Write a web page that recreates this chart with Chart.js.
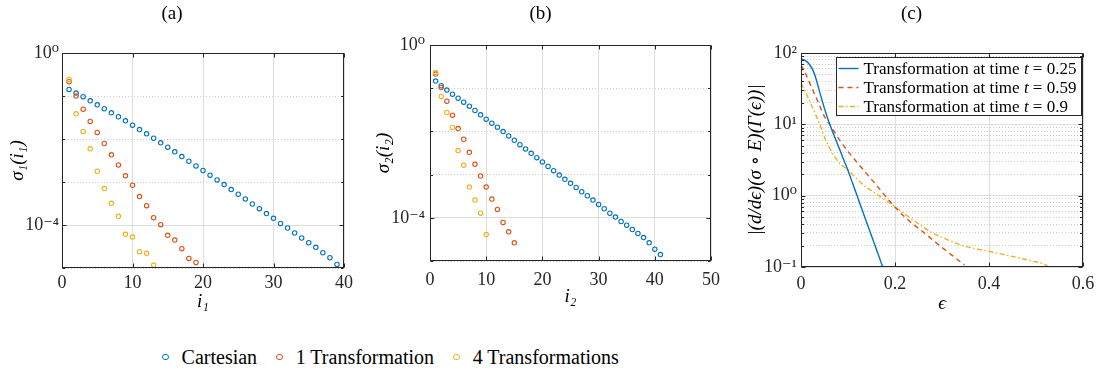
<!DOCTYPE html>
<html>
<head>
<meta charset="utf-8">
<title>Singular value decay and derivative norms</title>
<script src="https://cdn.jsdelivr.net/npm/chart.js@4.4.1/dist/chart.umd.min.js"></script>
<style>
  html, body { margin: 0; padding: 0; background: #fff; }
  body { position: relative; width: 1102px; height: 375px; overflow: hidden; }
  canvas { position: absolute; top: 0; }
  #panelA { left: 0; }
  #panelB { left: 370px; }
  #panelC { left: 740px; }
  #sharedLegend {
    position: absolute; left: 162px; top: 347px;
    display: flex; align-items: center; gap: 19px;
    font: 20px/20px 'Liberation Serif', 'DejaVu Serif', serif;
    color: #000; white-space: nowrap;
  }
  #sharedLegend .item { display: flex; align-items: center; }
  #sharedLegend .dot {
    width: 4.6px; height: 4.6px; border: 1.2px solid; border-radius: 50%;
    margin-right: 13px;
  }
</style>
</head>
<body>
<canvas id="panelA" width="370" height="320"></canvas>
<canvas id="panelB" width="370" height="320"></canvas>
<canvas id="panelC" width="362" height="320"></canvas>
<div id="sharedLegend"></div>
<script>
// singular values sigma_1(i_1)
const sigma1Cartesian = [0.142, 0.117, 0.0962, 0.0774, 0.0625, 0.0505, 0.0407, 0.0329, 0.0265, 0.0210,
  0.0166, 0.0132, 0.0104, 8.15e-3, 6.46e-3, 5.02e-3, 3.91e-3, 3.04e-3, 2.37e-3, 1.85e-3,
  1.44e-3, 1.12e-3, 8.71e-4, 6.65e-4, 5.19e-4, 4.04e-4, 3.08e-4, 2.40e-4, 1.84e-4, 1.43e-4,
  1.09e-4, 8.51e-5, 6.52e-5, 4.98e-5, 3.87e-5, 3.02e-5, 2.26e-5, 1.73e-5, 1.21e-5];
const sigma1OneTransform = [0.215, 0.0995, 0.0495, 0.0256, 0.0142, 7.85e-3, 4.28e-3, 2.50e-3, 1.39e-3, 8.40e-4,
  4.57e-4, 2.82e-4, 1.48e-4, 1.02e-4, 5.74e-5, 4.47e-5, 2.81e-5, 1.67e-5, 1.35e-5];
const sigma1FourTransforms = [0.243, 0.0386, 0.0150, 5.90e-3, 1.78e-3, 7.02e-4, 3.20e-4, 1.59e-4, 6.07e-5, 5.25e-5,
  2.39e-5, 2.19e-5, 1.17e-5];

// singular values sigma_2(i_2)
const sigma2Cartesian = [0.146, 0.114, 0.0904, 0.0729, 0.0589, 0.0475, 0.0384, 0.0305, 0.0242, 0.0192,
  0.0155, 0.0125, 9.91e-3, 7.87e-3, 6.24e-3, 4.94e-3, 3.93e-3, 3.11e-3, 2.47e-3, 1.96e-3,
  1.55e-3, 1.23e-3, 9.77e-4, 7.76e-4, 6.27e-4, 5.06e-4, 4.01e-4, 3.24e-4, 2.57e-4, 2.04e-4,
  1.62e-4, 1.28e-4, 1.04e-4, 8.22e-5, 6.76e-5, 5.36e-5, 4.33e-5, 3.49e-5, 2.63e-5, 1.88e-5, 1.41e-5];
const sigma2OneTransform = [0.212, 0.104, 0.0501, 0.0237, 0.0116, 6.58e-3, 3.28e-3, 1.73e-3, 9.27e-4, 5.15e-4,
  2.71e-4, 1.56e-4, 7.80e-5, 4.73e-5, 2.63e-5];
const sigma2FourTransforms = [0.232, 0.0644, 0.0274, 0.0123, 3.59e-3, 1.64e-3, 5.15e-4, 2.57e-4, 1.28e-4, 4.10e-5];

// |(d/d eps)(sigma o E)(Gamma(eps))| at three transformation times
const epsT025 = [0, 0.005, 0.01, 0.015, 0.02, 0.025, 0.03, 0.035, 0.04, 0.05, 0.06, 0.07, 0.08, 0.09,
  0.10, 0.11, 0.12, 0.13, 0.14, 0.15, 0.16, 0.17, 0.18];
const derivT025 = [82.4, 80.5, 77.5, 73, 66, 58, 48, 37, 28, 16.6, 10.5, 7.1, 4.85, 3.3,
  2.25, 1.48, 0.97, 0.635, 0.417, 0.274, 0.18, 0.118, 0.077];
const epsT059 = [0, 0.01, 0.02, 0.03, 0.04, 0.05, 0.06, 0.07, 0.08, 0.09, 0.10, 0.11, 0.12, 0.13, 0.14,
  0.15, 0.16, 0.17, 0.18, 0.19, 0.20, 0.22, 0.24, 0.26, 0.28, 0.30, 0.32, 0.34, 0.348];
const derivT059 = [68, 50.7, 36, 25.6, 18.1, 12.8, 10.2, 8.1, 6.3, 5.1, 4.14, 3.46, 2.89, 2.42, 2.02,
  1.69, 1.41, 1.18, 0.98, 0.82, 0.69, 0.51, 0.39, 0.31, 0.24, 0.188, 0.148, 0.117, 0.107];
const epsT09 = [0, 0.01, 0.02, 0.03, 0.04, 0.05, 0.06, 0.07, 0.08, 0.09, 0.10, 0.12, 0.14, 0.16, 0.18,
  0.20, 0.22, 0.24, 0.26, 0.28, 0.30, 0.32, 0.34, 0.36, 0.38, 0.40, 0.43, 0.46, 0.49, 0.52, 0.526];
const derivT09 = [37.6, 28, 20, 14.3, 10, 6.6, 4.8, 3.65, 2.95, 2.57, 2.29, 1.68, 1.30, 1.06, 0.86,
  0.70, 0.56, 0.45, 0.363, 0.30, 0.26, 0.229, 0.204, 0.188, 0.176, 0.166, 0.150, 0.136, 0.122, 0.107, 0.100];

const seriesNames = ['Cartesian', '1 Transformation', '4 Transformations'];
const timeLabels = ['0.25', '0.59', '0.9'];
const seriesColors = ['#0072BD', '#D95319', '#EDB120'];

const xTicksA = [0, 10, 20, 30, 40];
const xTicksB = [0, 10, 20, 30, 40, 50];
const xTicksC = [0, 0.2, 0.4, 0.6];
const yDecadesAB = [1e-5, 1e-4, 1e-3, 1e-2, 1e-1, 1];
const yDecadeLabelsAB = ['', '10⁻⁴', '', '', '', '10⁰'];
const yDecadesC = [0.1, 1, 10, 100];
const yDecadeLabelsC = ['10⁻¹', '10⁰', '10¹', '10²'];

const FONT = "'Liberation Serif', 'DejaVu Serif', serif";
const INK = '#262626';
Chart.defaults.font.family = FONT;
Chart.defaults.color = INK;

const toIndexed = ys => ys.map((y, i) => ({ x: i + 1, y: y }));
const zip = (xs, ys) => xs.map((x, i) => ({ x: x, y: ys[i] }));

// decade ticks for panels a and b (only some carry a label)
function decadeTicksAB() {
  return yDecadesAB.map((v, i) => ({ value: v, major: yDecadeLabelsAB[i] !== '', text: yDecadeLabelsAB[i] }));
}
// decades plus 2..9 minor ticks for panel c
function decadeTicksC() {
  const out = [];
  yDecadesC.forEach((d, i) => {
    const last = i === yDecadesC.length - 1;
    for (let m = 1; m <= (last ? 1 : 9); m++) {
      out.push({ value: d * m, major: m === 1, text: m === 1 ? yDecadeLabelsC[i] : '' });
    }
  });
  return out;
}

const gridStyle = () => ({
  drawTicks: false,
  lineWidth: 1,
  color: c => (c.tick && c.tick.major) ? '#dedede' : '#cdcdcd'
});
const gridBorder = () => ({
  display: false,
  dash: c => (c.tick && c.tick.major) ? [] : [1, 2]
});

function xAxis(o) {
  return {
    type: 'linear', position: 'bottom',
    min: o.ticks[0], max: o.ticks[o.ticks.length - 1],
    afterBuildTicks: s => { s.ticks = o.ticks.map(v => ({ value: v, major: true, text: String(v) })); },
    afterFit: s => { s.height = o.height; },
    grid: gridStyle(), border: gridBorder(),
    ticks: { padding: o.tickPad, maxRotation: 0, autoSkip: false, font: { size: 18 },
      callback: (v, i, t) => t[i].text },
    title: { display: true, text: o.title, color: '#000', font: { size: 19, style: 'italic' },
      padding: { top: 0, bottom: o.titlePad } }
  };
}

function yAxis(o) {
  return {
    type: 'logarithmic', position: 'left',
    min: o.min, max: o.max,
    afterBuildTicks: s => { s.ticks = o.ticks(); },
    afterFit: s => { s.width = o.width; },
    grid: gridStyle(), border: gridBorder(),
    ticks: { padding: o.tickPad, autoSkip: false, font: { size: 18 },
      callback: (v, i, t) => t[i].text },
    title: { display: true, text: o.title, color: '#000', font: { size: 19, style: 'italic' },
      padding: { top: o.titlePad, bottom: 0 } }
  };
}

// box around the axes with inward tick marks, drawn over the data
const axesBox = {
  id: 'axesBox',
  afterDraw(chart) {
    const { ctx, chartArea: a, scales } = chart;
    const L = Math.round(a.left) + 0.5, R = Math.round(a.right) - 0.5;
    const T = Math.round(a.top) + 0.5, B = Math.round(a.bottom) - 0.5;
    ctx.save();
    ctx.strokeStyle = INK;
    ctx.lineWidth = 1;
    ctx.beginPath();
    scales.x.ticks.forEach(t => {
      const px = Math.round(scales.x.getPixelForValue(t.value)) + 0.5;
      ctx.moveTo(px, B); ctx.lineTo(px, B - 4);
      ctx.moveTo(px, T); ctx.lineTo(px, T + 4);
    });
    scales.y.ticks.forEach(t => {
      const py = Math.round(scales.y.getPixelForValue(t.value)) + 0.5;
      const len = t.major ? 4 : 2.5;
      ctx.moveTo(L, py); ctx.lineTo(L + len, py);
      ctx.moveTo(R, py); ctx.lineTo(R - len, py);
    });
    ctx.stroke();
    ctx.strokeRect(L, T, R - L, B - T);
    ctx.restore();
  }
};

// boxed line legend inside the top right corner of panel c
const insideLegend = {
  id: 'insideLegend',
  afterDraw(chart, args, opts) {
    if (!opts.display) return;
    const { ctx, chartArea: a } = chart;
    const sets = chart.data.datasets;
    const w = opts.width, rowH = opts.rowHeight;
    const h = rowH * sets.length + 1;
    const x0 = Math.round(a.right - w - 2) + 0.5;
    const y0 = Math.round(a.top + 4) + 0.5;
    ctx.save();
    ctx.fillStyle = '#fff';
    ctx.fillRect(x0, y0, w, h);
    ctx.strokeStyle = INK;
    ctx.lineWidth = 1;
    ctx.strokeRect(x0, y0, w, h);
    ctx.textBaseline = 'middle';
    sets.forEach((ds, i) => {
      const y = y0 + 1.5 + rowH * (i + 0.5);
      ctx.strokeStyle = ds.borderColor;
      ctx.lineWidth = ds.borderWidth;
      ctx.setLineDash(ds.borderDash || []);
      ctx.beginPath();
      ctx.moveTo(x0 + 2, y);
      ctx.lineTo(x0 + 22, y);
      ctx.stroke();
      ctx.setLineDash([]);
      // "Transformation at time " + italic t + " = value"
      const parts = ds.label.split(' t ');
      let x = x0 + 27;
      ctx.fillStyle = '#000';
      ctx.font = '17px ' + FONT;
      ctx.fillText(parts[0] + ' ', x, y + 1);
      x += ctx.measureText(parts[0] + ' ').width;
      ctx.font = 'italic 17px ' + FONT;
      ctx.fillText('t', x, y + 1);
      x += ctx.measureText('t').width;
      ctx.font = '17px ' + FONT;
      ctx.fillText(' ' + parts[1], x, y + 1);
    });
    ctx.restore();
  }
};

function scatterSets(cart, one, four) {
  return [cart, one, four].map((ys, k) => ({
    label: seriesNames[k],
    data: toIndexed(ys),
    borderColor: seriesColors[k],
    backgroundColor: 'rgba(0,0,0,0)',
    pointRadius: 2.2,
    pointBorderWidth: 1.1,
    pointStyle: 'circle',
    order: 2 - k
  }));
}

function baseOptions(title, titleBottom, rightPad) {
  return {
    responsive: false,
    animation: false,
    devicePixelRatio: 1,
    layout: { padding: { left: 0, top: 0, right: rightPad, bottom: 0 } },
    plugins: {
      legend: { display: false },
      tooltip: { enabled: false },
      title: { display: true, text: title, color: '#000', font: { size: 19, weight: 'normal' },
        padding: { top: 3, bottom: titleBottom } }
    }
  };
}

// panel (a)
const optsA = baseOptions('(a)', 27.2, 26);
optsA.scales = {
  x: xAxis({ ticks: xTicksA, height: 52, tickPad: 4, title: 'i₁', titlePad: 7 }),
  y: yAxis({ min: 1e-5, max: 1, ticks: decadeTicksAB, width: 62, tickPad: 3, title: 'σ₁(i₁)', titlePad: 6.6 })
};
new Chart(document.getElementById('panelA'), {
  type: 'scatter',
  data: { datasets: scatterSets(sigma1Cartesian, sigma1OneTransform, sigma1FourTransforms) },
  options: optsA,
  plugins: [axesBox]
});

// panel (b)
const optsB = baseOptions('(b)', 19.2, 29);
optsB.scales = {
  x: xAxis({ ticks: xTicksB, height: 59, tickPad: 8, title: 'i₂', titlePad: 11.6 }),
  y: yAxis({ min: 1e-5, max: 1, ticks: decadeTicksAB, width: 60, tickPad: 5, title: 'σ₂(i₂)', titlePad: 2.6 })
};
new Chart(document.getElementById('panelB'), {
  type: 'scatter',
  data: { datasets: scatterSets(sigma2Cartesian, sigma2OneTransform, sigma2FourTransforms) },
  options: optsB,
  plugins: [axesBox]
});

// panel (c)
const curveDash = [[], [5, 4], [5, 2.5, 1.5, 2.5]];
const curves = [[epsT025, derivT025], [epsT059, derivT059], [epsT09, derivT09]];
const optsC = baseOptions('(c)', 27.2, 19);
optsC.plugins.insideLegend = { display: true, width: 245, rowHeight: 19 };
optsC.scales = {
  x: xAxis({ ticks: xTicksC, height: 53, tickPad: 6, title: 'ϵ', titlePad: 4.6 }),
  y: yAxis({ min: 0.1, max: 100, ticks: decadeTicksC, width: 61, tickPad: 4,
    title: '|(d/dϵ)(σ ∘ E)(Γ(ϵ))|', titlePad: 4.6 })
};
new Chart(document.getElementById('panelC'), {
  type: 'line',
  data: {
    datasets: curves.map((c, k) => ({
      label: 'Transformation at time t = ' + timeLabels[k],
      data: zip(c[0], c[1]),
      borderColor: seriesColors[k],
      borderWidth: 1.4,
      borderDash: curveDash[k],
      pointRadius: 0,
      fill: false,
      cubicInterpolationMode: 'monotone',
      order: k
    }))
  },
  options: optsC,
  plugins: [axesBox, insideLegend]
});

// shared marker legend under panels a and b
const legendBox = document.getElementById('sharedLegend');
seriesNames.forEach((name, k) => {
  const item = document.createElement('div');
  item.className = 'item';
  const dot = document.createElement('span');
  dot.className = 'dot';
  dot.style.borderColor = seriesColors[k];
  const text = document.createElement('span');
  text.textContent = name;
  item.appendChild(dot);
  item.appendChild(text);
  legendBox.appendChild(item);
});
</script>
</body>
</html>
